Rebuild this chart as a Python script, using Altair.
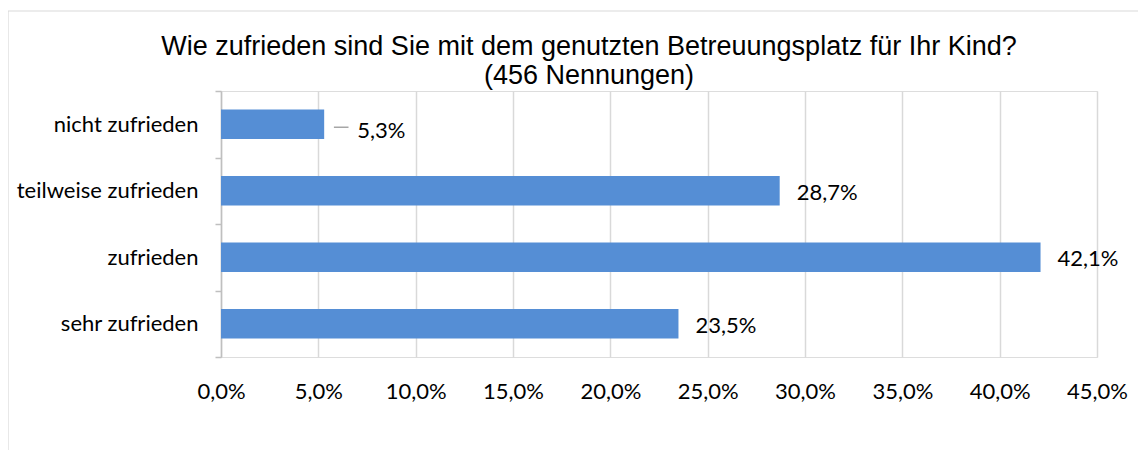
import altair as alt
import pandas as pd

categories = ["nicht zufrieden", "teilweise zufrieden", "zufrieden", "sehr zufrieden"]
values = [5.3, 28.7, 42.1, 23.5]
labels = ["5,3%", "28,7%", "42,1%", "23,5%"]
tick_values = [0, 5, 10, 15, 20, 25, 30, 35, 40, 45]

df = pd.DataFrame({"cat": categories, "v": values, "lab": labels})

W, H = 876, 266
LABEL_FONT = "Lato"
FS = 22

x_scale = alt.Scale(domain=[0, 45], nice=False, zero=True)
y_scale = alt.Scale(domain=categories, paddingInner=0, paddingOuter=0)

base = alt.Chart(df)

border = alt.Chart(pd.DataFrame({"a": [0]})).mark_rect(
    fillOpacity=0, stroke="#d9d9d9", strokeWidth=1.2
).encode(
    x=alt.value(-213), x2=alt.value(1000), y=alt.value(-80), y2=alt.value(500)
)

bars = base.mark_bar(color="#558ed5", height=29.5).encode(
    x=alt.X("v:Q", scale=x_scale,
            axis=alt.Axis(values=tick_values, labelExpr="replace(format(datum.value, '.1f'), '.', ',') + '%'",
                          title=None, domain=False, ticks=False, grid=True, labelFlush=False,
                          gridColor="#d9d9d9", gridWidth=1.5, labelPadding=24,
                          labelFont=LABEL_FONT, labelFontSize=FS, labelColor="#000000")),
    y=alt.Y("cat:N", scale=y_scale, sort=categories,
            axis=alt.Axis(title=None, domain=True, domainColor="#bfbfbf", domainWidth=1.5,
                          ticks=True, tickBand="extent", tickColor="#bfbfbf", tickSize=6, tickWidth=1.5,
                          labelPadding=17, labelFont=LABEL_FONT, labelFontSize=FS, labelLimit=400,
                          labelColor="#000000", grid=False)),
)

text_main = base.transform_filter("datum.v > 10").mark_text(
    align="left", baseline="middle", dx=17, dy=2, font=LABEL_FONT, fontSize=FS, color="#000000"
).encode(x=alt.X("v:Q", scale=x_scale), y=alt.Y("cat:N", scale=y_scale, sort=categories), text="lab:N")

text_small = base.transform_filter("datum.v <= 10").mark_text(
    align="left", baseline="middle", dx=33, dy=7, font=LABEL_FONT, fontSize=FS, color="#000000"
).encode(x=alt.X("v:Q", scale=x_scale), y=alt.Y("cat:N", scale=y_scale, sort=categories), text="lab:N")

leader = base.transform_filter("datum.v <= 10").transform_calculate(
    x1="datum.v + 0.5", x2="datum.v + 1.25"
).mark_rule(color="#a6a6a6", strokeWidth=1.5, yOffset=3).encode(
    x=alt.X("x1:Q", scale=x_scale), x2="x2:Q", y=alt.Y("cat:N", scale=y_scale, sort=categories)
)

chart = alt.layer(border, bars, leader, text_main, text_small).properties(
    width=W, height=H,
    title=alt.TitleParams(
        text=["Wie zufrieden sind Sie mit dem genutzten Betreuungsplatz für Ihr Kind?", "(456 Nennungen)"],
        font="Liberation Sans", fontSize=27, fontWeight="normal", color="#000000",
        anchor="middle", frame="group", dx=-70, dy=88, offset=8, lineHeight=29,
    ),
    padding={"left": 213, "top": 83, "right": 41, "bottom": 93},
    autosize=alt.AutoSizeParams(type="none"),
).configure_view(stroke=None).configure(background="white")

chart.save("out.html", embed_options={"renderer": "svg", "actions": False})
